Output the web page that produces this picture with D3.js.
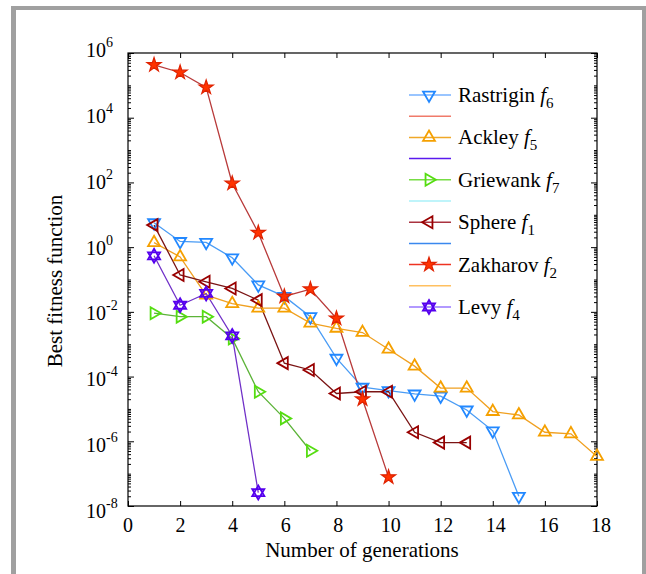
<!DOCTYPE html>
<html>
<head>
<meta charset="utf-8">
<script src="https://cdn.jsdelivr.net/npm/d3@7"></script>
<style>
body { margin:0; background:#fff; }
text { font-family:"Liberation Serif","Times New Roman",serif; fill:#000; }
</style>
</head>
<body>
<svg id="chart" width="646" height="574"></svg>
<script>
// generation index, shared by every series
var generations = [1,2,3,4,5,6,7,8,9,10,11,12,13,14,15,16,17,18];

// best fitness per generation
var rastrigin = [5.7, 1.5, 1.4, 0.47, 0.068, 0.03, 0.0071, 3.7e-4, 4.7e-5, 3.7e-5, 2.9e-5, 2.5e-5, 9.3e-6, 2.1e-6, 2e-8];
var ackley = [1.38, 0.5, 0.033, 0.018, 0.013, 0.013, 0.0045, 0.0031, 0.0023, 7e-4, 2.1e-4, 4.4e-5, 4.4e-5, 8.3e-6, 6.5e-6, 1.9e-6, 1.7e-6, 3.4e-7];
var griewank = [0.0091, 0.0071, 0.0071, 0.0015, 3.4e-5, 5.1e-6, 5.1e-7];
var sphere = [4.8, 0.138, 0.085, 0.053, 0.023, 2.6e-4, 1.6e-4, 3e-5, 3.4e-5, 3.4e-5, 1.9e-6, 9.1e-7, 9.1e-7];
var zakharov = [4.3e5, 2.5e5, 8.7e4, 93, 2.8, 0.03, 0.05, 0.0063, 2e-5, 7.8e-8];
var levy = [0.54, 0.016, 0.037, 0.0018, 2.6e-8];

var seriesNames = ['Rastrigin', 'Ackley', 'Griewank', 'Sphere', 'Zakharov', 'Levy'];
var seriesSubs = ['6', '5', '7', '1', '2', '4'];
var seriesValues = [rastrigin, ackley, griewank, sphere, zakharov, levy];

// axis ticks
var xTicks = [0,2,4,6,8,10,12,14,16,18];
var yExponents = [6,4,2,0,-2,-4,-6,-8];

// styles
var lineColors = ['#4a9cf5', '#f0a020', '#5cb338', '#7a1414', '#b83a3a', '#7030c8'];
var markerColors = ['#2288ff', '#f5a000', '#55dd11', '#990000', '#ff3300', '#5500ee'];
var legendLineColors = ['#77b2ff', '#f0a828', '#77dd44', '#aa3340', '#ee3322', '#9977ff'];
// unnamed legend lines that sit between the named entries
var extraLineColors = ['#f07a6a', '#5a1aee', '#aaf0f8', '#3a88ee', '#ffc060'];
var markerKinds = ['down', 'up', 'right', 'left', 'star', 'hex'];

var svg = d3.select('#chart');

// grey frame
svg.append('rect').attr('x',11).attr('y',6).attr('width',640).attr('height',600).attr('fill','#a0a0a0');
svg.append('rect').attr('x',16).attr('y',10).attr('width',626).attr('height',600).attr('fill','#fff');

var m = {left:128, top:53, right:597, bottom:506};

var x = d3.scaleLinear().domain([0,18]).range([m.left, m.right]);
var y = d3.scaleLog().domain([1e-8,1e6]).range([m.bottom, m.top]);

// ticks, all pointing inward
var g = svg.append('g');
g.append('g').attr('transform','translate(0,'+m.bottom+')')
    .call(d3.axisBottom(x).tickValues(xTicks).tickSizeInner(-5).tickSizeOuter(0).tickFormat(''));
g.append('g').attr('transform','translate(0,'+m.top+')')
    .call(d3.axisTop(x).tickValues(xTicks).tickSizeInner(-5).tickSizeOuter(0).tickFormat(''));

var minor = [];
for (var e = -8; e < 6; e++) {
    for (var k = 1; k < 10; k++) {
	if (k == 1 && e % 2 == 0) { continue; }
	minor.push(k * Math.pow(10, e));
    }
}
var majors = yExponents.map(function(p){ return Math.pow(10, p); });

g.append('g').attr('transform','translate('+m.left+',0)')
    .call(d3.axisLeft(y).tickValues(minor).tickSizeInner(-3).tickSizeOuter(0).tickFormat(''));
g.append('g').attr('transform','translate('+m.right+',0)')
    .call(d3.axisRight(y).tickValues(minor).tickSizeInner(-3).tickSizeOuter(0).tickFormat(''));
g.append('g').attr('transform','translate('+m.left+',0)')
    .call(d3.axisLeft(y).tickValues(majors).tickSizeInner(-6).tickSizeOuter(0).tickFormat(''));
g.append('g').attr('transform','translate('+m.right+',0)')
    .call(d3.axisRight(y).tickValues(majors).tickSizeInner(-6).tickSizeOuter(0).tickFormat(''));
g.selectAll('.domain').remove();
g.selectAll('line').attr('stroke','#000').attr('stroke-width',1);

// box
svg.append('rect')
    .attr('x',m.left).attr('y',m.top)
    .attr('width',m.right-m.left).attr('height',m.bottom-m.top)
    .attr('fill','none').attr('stroke','#000').attr('stroke-width',1.2);

// x tick labels
svg.selectAll('.xlab').data(xTicks).enter().append('text')
    .attr('x',function(d){ return x(d) + d*0.22; })
    .attr('y',532)
    .attr('text-anchor','middle')
    .style('font-size','20px')
    .text(function(d){ return d; });

// y tick labels, 10 with superscript exponent
var ylab = svg.selectAll('.ylab').data(yExponents).enter().append('text')
    .attr('x',106)
    .attr('y',function(d){ return y(Math.pow(10,d)) + 4 + (6-d)*0.57; })
    .attr('text-anchor','end')
    .style('font-size','20px');
ylab.append('tspan').text('10');
ylab.append('tspan')
    .attr('dy',-10)
    .style('font-size','14px')
    .text(function(d){ return d < 0 ? '-' + (-d) : d; });
// keep the superscript hanging to the right of the 10
ylab.each(function(){
    var t = d3.select(this);
    var w = t.select('tspan:last-child').node().getComputedTextLength();
    t.attr('x', 106 + w);
});

// axis titles
svg.append('text')
    .attr('x',362).attr('y',557)
    .attr('text-anchor','middle')
    .style('font-size','21px')
    .text('Number of generations');
svg.append('text')
    .attr('transform','translate(62,281) rotate(-90)')
    .attr('text-anchor','middle')
    .style('font-size','21px')
    .text('Best fitness function');

// marker shapes
function markerPath(kind){
    if (kind == 'star') { return d3.symbol().type(d3.symbolStar).size(62)(); }
    if (kind == 'hex') {
	var r = 7;
	var up = [], dn = [];
	for (var i = 0; i < 3; i++) {
	    var a = -Math.PI/2 + i*2*Math.PI/3;
	    up.push([r*Math.cos(a), r*Math.sin(a)]);
	    dn.push([r*Math.cos(a+Math.PI), r*Math.sin(a+Math.PI)]);
	}
	return 'M'+up.join('L')+'Z M'+dn.join('L')+'Z';
    }
    return d3.symbol().type(d3.symbolTriangle).size(62)();
}
function markerRotate(kind){
    if (kind == 'down') { return 180; }
    if (kind == 'right') { return 90; }
    if (kind == 'left') { return -90; }
    return 0;
}
function drawMarker(sel, i){
    var kind = markerKinds[i];
    sel.append('path')
	.attr('d', markerPath(kind))
	.attr('transform', 'rotate(' + markerRotate(kind) + ')')
	.attr('fill', kind == 'star' ? markerColors[i] : 'none')
	.attr('stroke', kind == 'star' ? '#e02200' : markerColors[i])
	.attr('stroke-width', kind == 'star' ? 1.2 : 1.8)
	.attr('stroke-linejoin','miter');
}

// series lines then markers
var line = d3.line()
    .x(function(d,i){ return x(generations[i]); })
    .y(function(d){ return y(d); });

seriesValues.forEach(function(vals, i){
    svg.append('path')
	.datum(vals)
	.attr('d', line)
	.attr('fill','none')
	.attr('stroke', lineColors[i])
	.attr('stroke-width', 1.3);
});
seriesValues.forEach(function(vals, i){
    svg.selectAll('.mk'+i).data(vals).enter().append('g')
	.attr('transform', function(d,j){ return 'translate('+x(generations[j])+','+y(d)+')'; })
	.each(function(){ drawMarker(d3.select(this), i); });
});

// legend: named entries alternate with plain lines
var legendY = d3.scaleLinear().domain([0,10]).range([95,307]);
var lg = svg.append('g');
seriesNames.forEach(function(name, i){
    var row = legendY(i*2);
    lg.append('line')
	.attr('x1',409).attr('x2',451).attr('y1',row).attr('y2',row)
	.attr('stroke', legendLineColors[i]).attr('stroke-width',1.5);
    var mk = lg.append('g').attr('transform','translate(429,'+row+')');
    drawMarker(mk, i);
    var t = lg.append('text')
	.attr('x',458).attr('y',row+7)
	.style('font-size','21px');
    t.append('tspan').text(name + ' ');
    t.append('tspan').style('font-style','italic').text('f');
    t.append('tspan').attr('dy',6).style('font-size','15px').text(seriesSubs[i]);
    if (i < extraLineColors.length) {
	var r2 = legendY(i*2+1);
	lg.append('line')
	    .attr('x1',409).attr('x2',451).attr('y1',r2).attr('y2',r2)
	    .attr('stroke', extraLineColors[i]).attr('stroke-width',1.5);
    }
});
</script>
</body>
</html>
